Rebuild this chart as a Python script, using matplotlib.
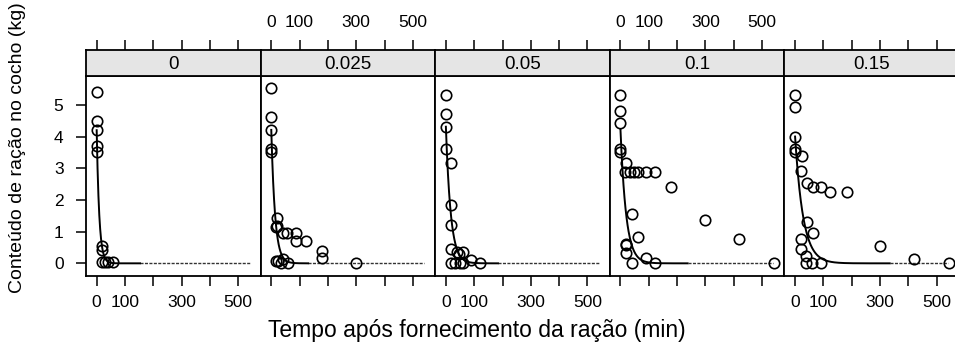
import numpy as np
import matplotlib
matplotlib.use("Agg")
import matplotlib.pyplot as plt

plt.rcParams['font.family'] = ['Liberation Sans', 'DejaVu Sans']

# níveis de fornecimento (painéis)
levels = ["0", "0.025", "0.05", "0.1", "0.15"]

# tempo (min) e conteúdo de ração (kg) observados em cada nível
t_0 = [0, 0, 0, 0, 0, 18, 18, 18, 29, 41, 59]
y_0 = [5.40, 4.50, 4.21, 3.70, 3.51, 0.56, 0.42, 0.05, 0.05, 0.05, 0.05]

t_025 = [0, 0, 0, 0, 0, 19, 19, 18, 40, 57, 89, 89, 121, 180, 180, 299,
         15, 22, 42, 36, 60]
y_025 = [5.52, 4.61, 4.21, 3.61, 3.52, 1.42, 1.18, 1.16, 0.95, 0.95, 0.95,
         0.70, 0.70, 0.39, 0.18, 0.02, 0.08, 0.08, 0.15, 0.02, 0.02]

t_05 = [0, 0, 0, 0, 19, 19, 19, 19, 39, 60, 48, 19, 33, 50, 62, 89, 121]
y_05 = [5.31, 4.71, 4.31, 3.61, 3.16, 1.85, 1.20, 0.45, 0.37, 0.37, 0.30,
        0.02, 0.02, 0.02, 0.02, 0.10, 0.02]

t_1 = [0, 0, 0, 0, 0, 20, 15, 32, 47, 61, 91, 121, 180, 300, 420, 541,
       41, 61, 20, 18, 20, 39, 91, 121]
y_1 = [5.31, 4.81, 4.42, 3.61, 3.52, 3.16, 2.89, 2.89, 2.89, 2.89, 2.89,
       2.89, 2.40, 1.37, 0.76, 0.02, 1.55, 0.84, 0.61, 0.58, 0.33, 0.02,
       0.16, 0.02]

t_15 = [0, 0, 0, 0, 0, 24, 21, 42, 62, 92, 124, 182, 301, 421, 542,
        42, 62, 21, 21, 39, 39, 59, 92]
y_15 = [5.31, 4.93, 4.00, 3.61, 3.52, 3.39, 2.91, 2.53, 2.42, 2.42, 2.24,
        2.24, 0.56, 0.14, 0.02, 1.29, 0.95, 0.76, 0.45, 0.24, 0.02, 0.02,
        0.02]

times = [t_0, t_025, t_05, t_1, t_15]
feed = [y_0, y_025, y_05, y_1, y_15]

# ajuste exponencial y = a*exp(-k*t) por nível
fit_a = [4.20, 4.21, 4.31, 4.21, 4.00]
fit_k = [0.110, 0.075, 0.058, 0.050, 0.035]
fit_end = [153, 130, 184, 237, 334]
t_max = 540

W, H = 955, 351
fig = plt.figure(figsize=(W / 100, H / 100), dpi=100)

x0, pw = 86, 174.6
top_strip, top_panel, bottom_panel = 50, 76, 275.7
tick_len = 7.2
fs_tick = 12.5
xt = [0, 100, 200, 300, 400, 500]
xt_lab = ["0", "100", "", "300", "", "500"]

for i in range(5):
    left = x0 + i * pw
    ax = fig.add_axes([left / W, 1 - bottom_panel / H, pw / W,
                       (bottom_panel - top_panel) / H])
    st = fig.add_axes([left / W, 1 - top_panel / H, pw / W,
                       (top_panel - top_strip) / H])

    tt = np.linspace(0, fit_end[i], 200)
    ax.plot([fit_end[i], t_max], [0, 0], color="#333333", lw=1.0,
            ls=(0, (2.2, 1.0)))
    ax.plot(tt, fit_a[i] * np.exp(-fit_k[i] * tt), color="black", lw=1.4)
    ax.plot(times[i], feed[i], "o", mfc="none", mec="black", ms=7.5, mew=1.2)

    ax.set_xlim(-37.7, 578.8)
    ax.set_ylim(-0.39, 5.91)
    ax.set_xticks(xt)
    ax.set_yticks(range(6))
    ax.tick_params(direction="out", length=tick_len, width=1.1,
                   labelsize=fs_tick, pad=7)
    ax.tick_params(axis="y", pad=9)
    if i % 2 == 0:
        ax.set_xticklabels(xt_lab)
    else:
        ax.set_xticklabels([])
    if i == 0:
        ax.yaxis.set_ticks_position("left")
    elif i == 4:
        ax.yaxis.set_ticks_position("right")
        ax.set_yticklabels([])
    else:
        ax.set_yticks([])
    for s in ax.spines.values():
        s.set_linewidth(1.3)

    # faixa com o nível
    st.set_facecolor("#e5e5e5")
    st.set_xlim(ax.get_xlim())
    st.set_yticks([])
    st.set_xticks(xt)
    st.xaxis.set_ticks_position("top")
    st.tick_params(direction="out", length=tick_len, width=1.1,
                   labelsize=fs_tick, pad=7)
    if i % 2 == 1:
        st.set_xticklabels(xt_lab)
    else:
        st.set_xticklabels([])
    for s in st.spines.values():
        s.set_linewidth(1.3)
    st.text(0.5, 0.45, levels[i], transform=st.transAxes, ha="center",
            va="center", fontsize=13.5)

fig.text(477 / W, 1 - 330 / H, "Tempo após fornecimento da ração (min)",
         ha="center", va="center", fontsize=16.5)
fig.text(18 / W, 1 - 148 / H, "Conteúdo de ração no cocho (kg)",
         ha="center", va="center", rotation=90, fontsize=14)

fig.savefig("out.png", dpi=100)
